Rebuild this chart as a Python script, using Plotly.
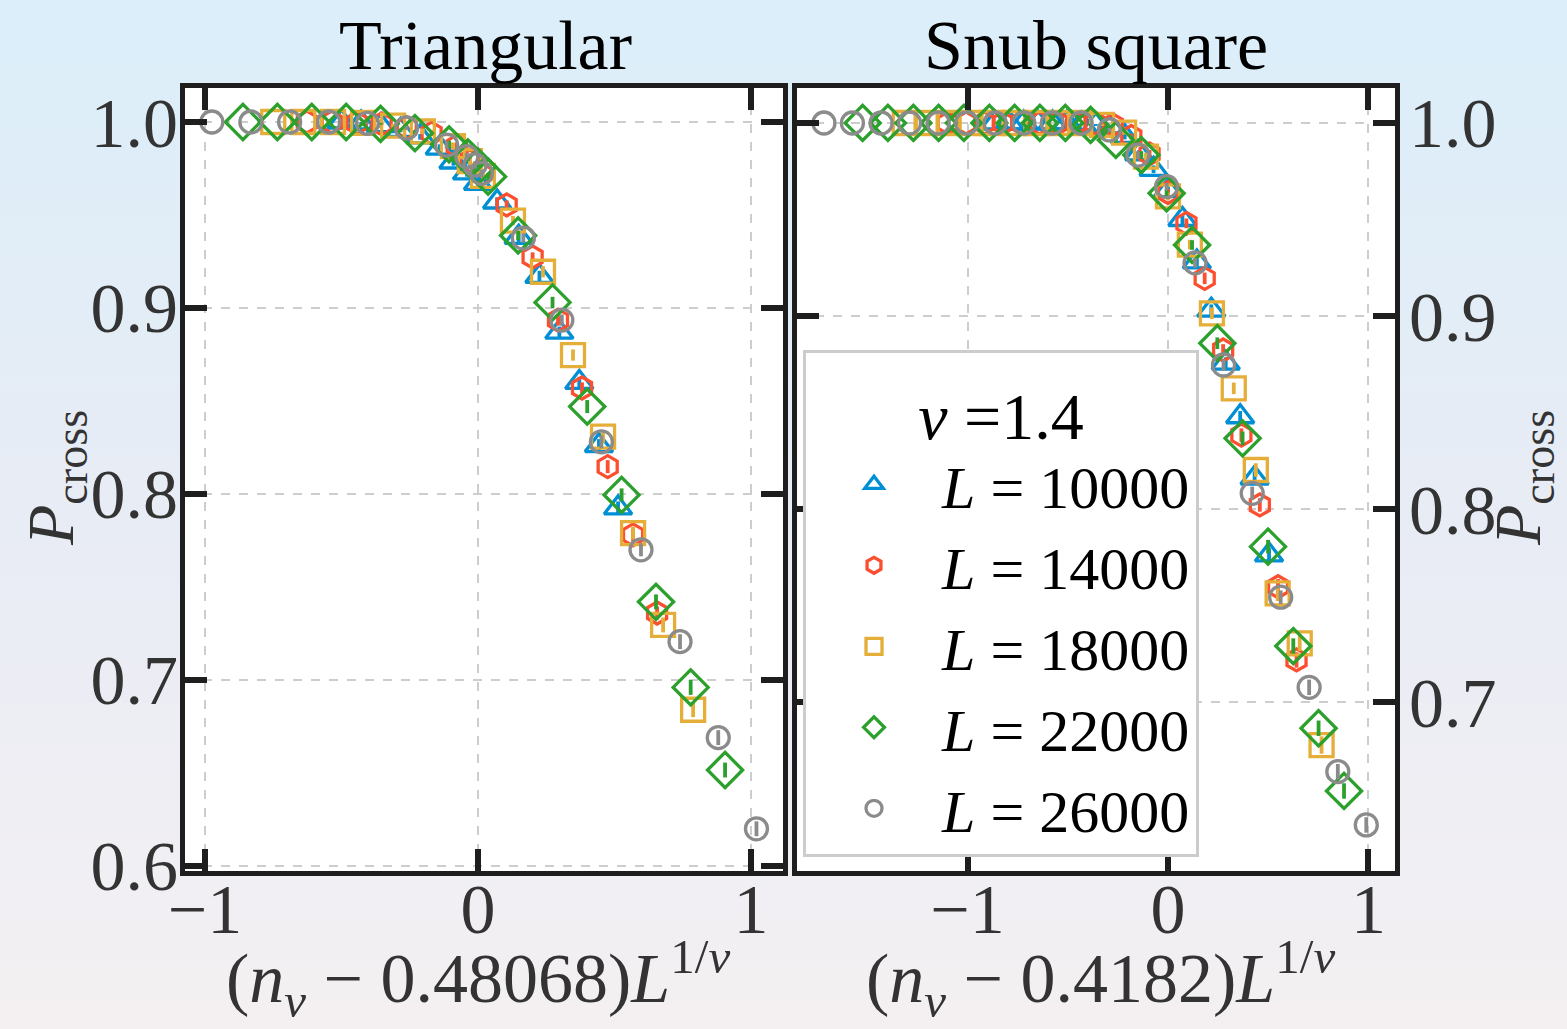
import plotly.graph_objects as go

W, H = 1567, 1029
FONT = "Liberation Serif"

# ---------------- data: triangular lattice, n_c = 0.48068 ----------------
tri_x_10000 = [-0.500, -0.428, -0.356, -0.284, -0.212, -0.140, -0.090, -0.040, 0.000, 0.070,
               0.149, 0.225, 0.298, 0.371, 0.443, 0.513]
tri_y_10000 = [1.0, 0.9995, 0.998, 0.9955, 0.992, 0.986, 0.9785, 0.9726, 0.967, 0.957,
               0.938, 0.917, 0.887, 0.860, 0.826, 0.7925]
tri_e_10000 = [0.0, 0.0005, 0.001, 0.001, 0.0015, 0.002, 0.002, 0.002, 0.002, 0.0025,
               0.0025, 0.003, 0.003, 0.003, 0.0035, 0.0035]

tri_x_14000 = [-0.627, -0.536, -0.444, -0.353, -0.261, -0.170, -0.078, -0.030, 0.013, 0.105,
               0.200, 0.293, 0.381, 0.475, 0.568, 0.656]
tri_y_14000 = [1.0, 1.0, 0.9995, 0.999, 0.997, 0.994, 0.987, 0.979, 0.972, 0.9554,
               0.9274, 0.8935, 0.857, 0.8147, 0.778, 0.736]
tri_e_14000 = [0.0, 0.0, 0.0005, 0.0005, 0.001, 0.0015, 0.002, 0.002, 0.002, 0.0025,
               0.0025, 0.003, 0.003, 0.0035, 0.0035, 0.0035]

tri_x_18000 = [-0.750, -0.640, -0.531, -0.421, -0.311, -0.202, -0.092, -0.030, 0.018, 0.128,
               0.238, 0.348, 0.458, 0.568, 0.678, 0.788]
tri_y_18000 = [1.0, 1.0, 1.0, 0.9995, 0.998, 0.995, 0.987, 0.979, 0.971, 0.947,
               0.9195, 0.8747, 0.8308, 0.779, 0.7296, 0.684]
tri_e_18000 = [0.0, 0.0, 0.0, 0.0005, 0.001, 0.0015, 0.002, 0.002, 0.002, 0.0025,
               0.003, 0.003, 0.0035, 0.0035, 0.004, 0.004]

tri_x_22000 = [-0.861, -0.735, -0.609, -0.483, -0.357, -0.231, -0.106, -0.037, 0.000, 0.037,
               0.147, 0.273, 0.400, 0.526, 0.652, 0.779, 0.905]
tri_y_22000 = [1.0, 1.0, 1.0, 1.0, 0.999, 0.994, 0.988, 0.981, 0.976, 0.9706,
               0.939, 0.903, 0.847, 0.7995, 0.742, 0.696, 0.6516]
tri_e_22000 = [0.0, 0.0, 0.0, 0.0, 0.0005, 0.0015, 0.002, 0.002, 0.002, 0.002,
               0.0025, 0.003, 0.0035, 0.0035, 0.004, 0.004, 0.004]

tri_x_26000 = [-0.975, -0.832, -0.690, -0.547, -0.405, -0.262, -0.115, -0.041, -0.011, 0.013,
               0.166, 0.307, 0.452, 0.597, 0.740, 0.880, 1.020]
tri_y_26000 = [1.0, 1.0, 1.0, 1.0, 0.9993, 0.9968, 0.9876, 0.9814, 0.9769, 0.9724,
               0.9376, 0.8935, 0.828, 0.770, 0.7206, 0.669, 0.620]
tri_e_26000 = [0.0, 0.0, 0.0, 0.0, 0.0005, 0.001, 0.002, 0.002, 0.002, 0.002,
               0.0025, 0.003, 0.0035, 0.0035, 0.004, 0.004, 0.004]

# ---------------- data: snub square lattice, n_c = 0.4182 ----------------
snub_x_10000 = [-0.864, -0.792, -0.720, -0.648, -0.576, -0.504, -0.432, -0.360, -0.288, -0.216,
                -0.144, -0.072, 0.000, 0.072, 0.144, 0.216, 0.288, 0.360, 0.432, 0.504]
snub_y_10000 = [1.0, 1.0, 1.0, 1.0, 1.0, 1.0, 0.9995, 0.999, 0.998, 0.993,
                0.984, 0.976, 0.965, 0.950, 0.928, 0.903, 0.8756, 0.8478, 0.816, 0.7762]
snub_e_10000 = [0.0, 0.0, 0.0, 0.0, 0.0, 0.0, 0.0005, 0.0005, 0.001, 0.0015,
                0.002, 0.002, 0.002, 0.0025, 0.0025, 0.003, 0.003, 0.003, 0.0035, 0.0035]

snub_x_14000 = [-1.098, -1.007, -0.915, -0.824, -0.732, -0.641, -0.549, -0.458, -0.366, -0.275,
                -0.183, -0.092, 0.000, 0.092, 0.183, 0.275, 0.366, 0.458, 0.549, 0.641]
snub_y_14000 = [1.0, 1.0, 1.0, 1.0, 1.0, 1.0, 1.0, 1.0, 1.0, 0.999,
                0.993, 0.984, 0.964, 0.948, 0.9195, 0.8824, 0.8383, 0.8021, 0.7597, 0.7218]
snub_e_14000 = [0.0, 0.0, 0.0, 0.0, 0.0, 0.0, 0.0, 0.0, 0.0, 0.0005,
                0.0015, 0.002, 0.002, 0.0025, 0.003, 0.003, 0.0035, 0.0035, 0.004, 0.004]

snub_x_18000 = [-1.313, -1.204, -1.094, -0.985, -0.876, -0.766, -0.657, -0.547, -0.438, -0.329,
                -0.219, -0.110, 0.000, 0.109, 0.219, 0.328, 0.438, 0.547, 0.657, 0.766]
snub_y_18000 = [1.0, 1.0, 1.0, 1.0, 1.0, 1.0, 1.0, 1.0, 1.0, 0.999,
                0.995, 0.9826, 0.962, 0.937, 0.9014, 0.8625, 0.8202, 0.7563, 0.7304, 0.6777]
snub_e_18000 = [0.0, 0.0, 0.0, 0.0, 0.0, 0.0, 0.0, 0.0, 0.0, 0.0005,
                0.001, 0.002, 0.002, 0.0025, 0.003, 0.003, 0.0035, 0.004, 0.004, 0.0045]

snub_x_22000 = [-1.523, -1.397, -1.270, -1.144, -1.018, -0.891, -0.765, -0.639, -0.512, -0.386,
                -0.260, -0.133, -0.007, 0.120, 0.246, 0.372, 0.499, 0.625, 0.751, 0.878]
snub_y_22000 = [1.0, 1.0, 1.0, 1.0, 1.0, 1.0, 1.0, 1.0, 1.0, 0.999,
                0.9912, 0.9834, 0.9636, 0.9368, 0.8859, 0.8366, 0.7805, 0.729, 0.6864, 0.6539]
snub_e_22000 = [0.0, 0.0, 0.0, 0.0, 0.0, 0.0, 0.0, 0.0, 0.0, 0.0005,
                0.0015, 0.002, 0.002, 0.0025, 0.003, 0.0035, 0.0035, 0.004, 0.004, 0.004]

snub_x_26000 = [-1.716, -1.574, -1.431, -1.289, -1.146, -1.004, -0.862, -0.719, -0.577, -0.434,
                -0.292, -0.150, -0.007, 0.135, 0.277, 0.420, 0.562, 0.704, 0.847, 0.989]
snub_y_26000 = [1.0, 1.0, 1.0, 1.0, 1.0, 1.0, 1.0, 1.0, 1.0, 1.0,
                0.9964, 0.9834, 0.967, 0.9275, 0.8746, 0.8081, 0.7543, 0.7076, 0.6639, 0.6363]
snub_e_26000 = [0.0, 0.0, 0.0, 0.0, 0.0, 0.0, 0.0, 0.0, 0.0, 0.0,
                0.001, 0.002, 0.002, 0.0025, 0.003, 0.0035, 0.0035, 0.004, 0.004, 0.004]

sizes_L = ["10000", "14000", "18000", "22000", "26000"]
x_tick_vals = [-1, 0, 1]
x_tick_text = ["\u22121", "0", "1"]
tri_y_ticks = [0.6, 0.7, 0.8, 0.9, 1.0]
snub_y_ticks = [0.7, 0.8, 0.9, 1.0]

tri_series = [(tri_x_10000, tri_y_10000, tri_e_10000), (tri_x_14000, tri_y_14000, tri_e_14000),
              (tri_x_18000, tri_y_18000, tri_e_18000), (tri_x_22000, tri_y_22000, tri_e_22000),
              (tri_x_26000, tri_y_26000, tri_e_26000)]
snub_series = [(snub_x_10000, snub_y_10000, snub_e_10000), (snub_x_14000, snub_y_14000, snub_e_14000),
               (snub_x_18000, snub_y_18000, snub_e_18000), (snub_x_22000, snub_y_22000, snub_e_22000),
               (snub_x_26000, snub_y_26000, snub_e_26000)]

# marker styling per system size
colors = ["#008fd5", "#fc4f30", "#e5ae38", "#2ca02c", "#8b8b8b"]
symbols = ["triangle-up-open", "hexagon-open", "square-open", "diamond-open", "circle-open"]
msizes = [24, 22, 23, 27, 22]

fig = go.Figure()

for panel, series, xa, ya in [("tri", tri_series, "x", "y"), ("snub", snub_series, "x2", "y2")]:
    for i, (xs, ys, es) in enumerate(series):
        fig.add_trace(go.Scatter(
            x=xs, y=ys, xaxis=xa, yaxis=ya, mode="markers",
            name="<i>L</i> = " + sizes_L[i],
            showlegend=(panel == "snub"),
            marker=dict(symbol=symbols[i], size=msizes[i], color=colors[i],
                        line=dict(width=3.3, color=colors[i])),
            error_y=dict(type="data", array=es, visible=True, color=colors[i],
                         thickness=3.8, width=0),
        ))

# ---------------- page background: vertical colour gradient ----------------
stops = [(0.0, (219, 238, 249)), (0.5, (232, 236, 245)), (1.0, (244, 240, 242))]


def grad_color(t):
    for (t0, c0), (t1, c1) in zip(stops[:-1], stops[1:]):
        if t <= t1:
            f = (t - t0) / (t1 - t0)
            return "rgb(%d,%d,%d)" % tuple(round(a + (b - a) * f) for a, b in zip(c0, c1))
    return "rgb(%d,%d,%d)" % stops[-1][1]


shapes = []
n_bands = 120
for k in range(n_bands):
    y1 = 1 - k / n_bands
    y0 = 1 - (k + 1) / n_bands
    shapes.append(dict(type="rect", xref="paper", yref="paper", x0=0, x1=1, y0=y0 - 0.001, y1=y1,
                       fillcolor=grad_color((k + 0.5) / n_bands), line=dict(width=0), layer="below"))

# plot-area geometry (pixels)
L_LEFT, L_RIGHT = 185, 783
R_LEFT, R_RIGHT = 797, 1395
TOP, BOTTOM = 88, 871
for x0, x1 in [(L_LEFT, L_RIGHT), (R_LEFT, R_RIGHT)]:
    shapes.append(dict(type="rect", xref="paper", yref="paper", x0=x0 / W, x1=x1 / W,
                       y0=1 - BOTTOM / H, y1=1 - TOP / H, fillcolor="white",
                       line=dict(width=0), layer="below"))

frame = "#1e1e1e"
axis_common = dict(
    showline=True, linecolor=frame, linewidth=5, mirror="ticks",
    ticks="inside", ticklen=22, tickwidth=6, tickcolor=frame,
    showgrid=True, gridcolor="#cdcdcd", griddash="dash", gridwidth=1.6,
    zeroline=False, automargin=False,
    tickfont=dict(family=FONT, size=70, color="#333333"),
)

ydom = [1 - BOTTOM / H, 1 - TOP / H]
fig.update_layout(
    template="none",
    autosize=False,
    width=W, height=H,
    margin=dict(l=0, r=0, t=0, b=0, pad=0, autoexpand=False),
    paper_bgcolor="rgba(0,0,0,0)",
    plot_bgcolor="white",
    shapes=shapes,
    xaxis=dict(axis_common, domain=[L_LEFT / W, L_RIGHT / W], range=[-1.0733, 1.1172],
               tickvals=x_tick_vals, ticktext=x_tick_text, anchor="y", ticklabelstandoff=-27),
    yaxis=dict(axis_common, domain=ydom, range=[0.5973, 1.01828],
               tickvals=tri_y_ticks, tickformat=".1f", anchor="x", ticklabelstandoff=-12),
    xaxis2=dict(axis_common, domain=[R_LEFT / W, R_RIGHT / W], range=[-1.8504, 1.1322],
                tickvals=x_tick_vals, ticktext=x_tick_text, anchor="y2", ticklabelstandoff=-27),
    yaxis2=dict(axis_common, domain=ydom, range=[0.61244, 1.01813],
                tickvals=snub_y_ticks, tickformat=".1f", side="right", anchor="x2",
                ticklabelstandoff=-5),
    legend=dict(
        x=803 / W, y=1 - 350 / H, xanchor="left", yanchor="top",
        bgcolor="white", bordercolor="#cccccc", borderwidth=3,
        font=dict(family=FONT, size=60, color="black"),
        title=dict(text="<i>\u03bd</i> =1.4", side="top center",
                   font=dict(family=FONT, size=66, color="black")),
        itemsizing="trace", itemwidth=126, tracegroupgap=0,
    ),
    annotations=[
        dict(text="Triangular", x=485 / W, y=1 - 45 / H, xref="paper", yref="paper",
             showarrow=False, font=dict(family=FONT, size=70, color="black"),
             xanchor="center", yanchor="middle"),
        dict(text="Snub square", x=1096 / W, y=1 - 45 / H, xref="paper", yref="paper",
             showarrow=False, font=dict(family=FONT, size=70, color="black"),
             xanchor="center", yanchor="middle"),
        dict(text="(<i>n</i><sub><i>v</i></sub> \u2212 0.48068)<i>L</i><sup>1/<i>\u03bd</i></sup>",
             x=478 / W, y=1 - 978 / H, xref="paper", yref="paper", showarrow=False,
             font=dict(family=FONT, size=70, color="#333333"), xanchor="center", yanchor="middle"),
        dict(text="(<i>n</i><sub><i>v</i></sub> \u2212 0.4182)<i>L</i><sup>1/<i>\u03bd</i></sup>",
             x=1100 / W, y=1 - 978 / H, xref="paper", yref="paper", showarrow=False,
             font=dict(family=FONT, size=70, color="#333333"), xanchor="center", yanchor="middle"),
        dict(text="<i>P</i><sub>cross</sub>", x=55 / W, y=1 - 478 / H, xref="paper", yref="paper",
             showarrow=False, textangle=-90, font=dict(family=FONT, size=66, color="#333333"),
             xanchor="center", yanchor="middle"),
        dict(text="<i>P</i><sub>cross</sub>", x=1522 / W, y=1 - 478 / H, xref="paper", yref="paper",
             showarrow=False, textangle=-90, font=dict(family=FONT, size=66, color="#333333"),
             xanchor="center", yanchor="middle"),
    ],
)

# the page itself gets no margin, so the figure sits flush in the window
fig.write_html(
    "out.html",
    config={"responsive": False},
    post_script="document.body.style.margin='0';document.body.style.overflow='hidden';"
                "document.documentElement.style.overflow='hidden';",
)
